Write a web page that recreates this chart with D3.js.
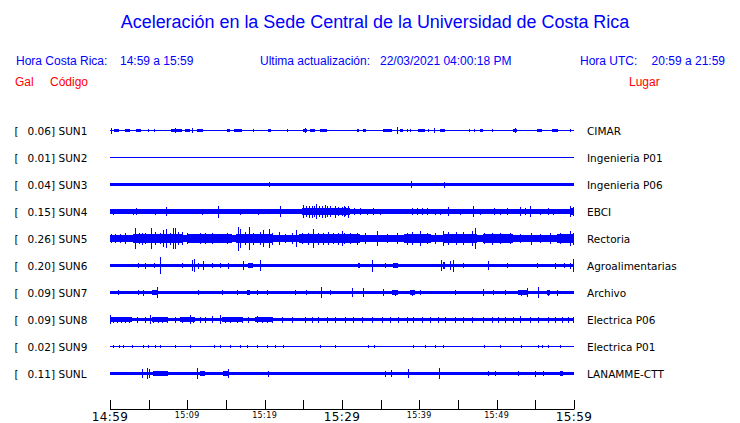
<!DOCTYPE html>
<html>
<head>
<meta charset="utf-8">
<script src="https://cdn.jsdelivr.net/npm/d3@7"></script>
<style>
  html, body { margin: 0; padding: 0; background: #fff; }
  svg { display: block; }
</style>
</head>
<body>
<svg id="chart" width="740" height="423"></svg>
<script>
// ---------------- DATA ----------------
const titleText = "Aceleración en la Sede Central de la Universidad de Costa Rica";
const localLabel = "Hora Costa Rica:", localRange = "14:59 a 15:59";
const updateLabel = "Ultima actualización:", updateValue = "22/03/2021 04:00:18 PM";
const utcLabel = "Hora UTC:", utcRange = "20:59 a 21:59";

const codes  = ["SUN1","SUN2","SUN3","SUN4","SUN5","SUN6","SUN7","SUN8","SUN9","SUNL"];
const places = ["CIMAR","Ingenieria P01","Ingenieria P06","EBCI","Rectoria","Agroalimentarias","Archivo","Electrica P06","Electrica P01","LANAMME-CTT"];
const peakGal = [0.06, 0.01, 0.04, 0.15, 0.26, 0.20, 0.09, 0.09, 0.02, 0.11];
// background (noise band) half-amplitude, Gal
const bandGal = [0.011, 0.011, 0.033, 0.045, 0.078, 0.033, 0.033, 0.042, 0.011, 0.04];

// minutes after 14:59
const tickMinutes = [0,5,10,15,20,25,30,35,40,45,50,55,60];
const tickLabels  = {0:"14:59",10:"15:09",20:"15:19",30:"15:29",40:"15:39",50:"15:49",60:"15:59"};
const majorTicks  = [0,30,60];

// events per station: [startMinute, endMinute, halfAmplitudeGal]
const sun1Events = [[0.1,0.1,.065],[0.5,1.2,.03],[1.9,2.6,.03],[3.4,4.0,.03],[4.9,4.9,.025],[5.7,5.7,.025],[6.7,6.7,.02],[7.9,9.3,.03],[8.4,8.4,.055],[9.7,10.3,.025],[10.6,10.6,.06],[11.2,12.0,.03],[13.1,13.1,.02],[15.1,15.5,.03],[16.0,17.1,.035],[18.5,18.5,.025],[19.5,19.5,.02],[20.4,20.8,.03],[22.9,22.9,.025],[23.5,23.5,.02],[24.6,24.6,.02],[25.0,25.5,.03],[25.2,25.2,.055],[25.9,26.5,.03],[27.2,28.1,.025],[29.1,29.1,.02],[30.1,30.1,.02],[31.9,32.2,.03],[32.7,33.1,.03],[33.6,33.6,.02],[35.3,36.5,.035],[37.1,37.1,.075],[37.5,37.9,.03],[38.4,38.4,.025],[38.8,38.8,.025],[39.8,40.7,.03],[41.1,41.1,.035],[41.9,41.9,.045],[42.7,43.3,.03],[45.3,45.3,.02],[46.4,46.4,.025],[47.1,47.1,.03],[47.8,48.2,.03],[49.4,49.4,.025],[50.8,50.8,.02],[52.1,52.6,.03],[52.4,52.4,.045],[53.5,53.5,.02],[54.4,54.4,.02],[55.2,55.9,.025],[57.2,57.9,.03],[58.4,58.4,.02],[59.5,59.5,.025]];
const sun2Events = [[20.4,20.4,.02],[39.2,39.2,.02]];
const sun3Events = [[20.6,20.6,.055],[31.0,31.0,.04],[38.9,38.9,.075],[43.2,43.2,.065]];
const sun4Events = [[0.4,0.9,.055],[3.0,3.6,.055],[8.0,9.7,.05],[24.8,30.4,.07],[29.7,31.0,.072],[32.3,34.9,.053],[39.1,41.0,.058],[49.5,51.3,.053],[53.0,53.9,.062],[56.5,57.3,.053],[59.5,59.9,.075],
  [0.4,0.4,.065],[0.7,0.7,.06],[3.0,3.0,.065],[3.3,3.3,.07],[3.7,3.7,.06],[5.8,5.8,.065],[6.2,6.2,.06],[7.3,7.3,.087],[8.0,8.0,.06],[8.6,8.6,.06],[9.4,9.4,.06],[11.9,11.9,.065],[13.2,13.2,.06],[14.0,14.0,.13],[15.5,15.5,.06],[16.8,16.8,.065],[17.9,17.9,.06],[19.2,19.2,.065],[19.6,19.6,.06],[20.9,20.9,.06],[22.0,22.0,.11],
  [25.0,25.0,.15],[25.3,25.3,.12],[25.7,25.7,.13],[26.1,26.1,.13],[26.4,26.4,.11],[26.7,26.7,.17],[27.0,27.0,.12],[27.4,27.4,.13],[27.8,27.8,.15],[28.1,28.1,.11],[28.5,28.5,.12],[29.1,29.1,.13],[29.5,29.5,.10],[30.2,30.2,.11],
  [30.0,30.0,.10],[30.4,30.4,.09],[30.8,30.8,.13],[31.5,31.5,.07],[32.3,32.3,.07],[33.2,33.2,.065],[34.0,34.0,.07],[34.9,34.9,.065],[39.0,39.0,.075],[39.7,39.7,.07],[40.3,40.3,.08],[41.0,41.0,.07],[42.0,42.0,.065],[42.7,42.7,.065],[43.7,43.7,.10],[45.3,45.3,.065],[47.0,47.0,.11],[47.8,47.8,.065],[49.6,49.6,.07],[50.4,50.4,.065],[51.3,51.3,.07],[53.0,53.0,.09],[53.7,53.7,.08],[54.3,54.3,.11],[55.6,55.6,.065],[56.7,56.7,.07],[57.3,57.3,.065],[59.5,59.5,.11],[59.9,59.9,.09]];
const sun5Events = [[3.0,9.5,.098],[10.0,15.8,.088],[16.3,21.0,.102],[24.5,30.5,.095],[29.7,32.3,.092],[38.0,41.5,.092],[43.0,47.5,.098],[48.2,52.1,.088],[57.8,59.9,.088],
  [0.1,0.1,.09],[0.6,0.6,.10],[1.3,1.3,.09],[1.9,1.9,.11],[3.2,3.2,.23],[3.7,3.7,.12],[4.2,4.2,.13],[4.5,4.5,.11],[5.3,5.3,.22],[5.8,5.8,.15],[6.5,6.5,.12],[6.9,6.9,.18],[7.3,7.3,.20],[7.8,7.8,.13],[8.1,8.1,.22],[8.4,8.4,.22],[8.8,8.8,.14],[9.3,9.3,.15],[9.9,9.9,.11],[10.6,10.6,.10],[11.6,11.6,.12],[12.3,12.3,.11],[13.2,13.2,.12],[14.4,14.4,.10],[15.1,15.1,.11],[15.7,15.7,.10],
  [16.5,16.5,.26],[16.8,16.8,.20],[17.5,17.5,.14],[18.0,18.0,.24],[18.5,18.5,.13],[19.4,19.4,.15],[19.8,19.8,.19],[20.5,20.5,.20],[20.9,20.9,.13],[21.8,21.8,.15],[22.6,22.6,.10],[23.5,23.5,.11],[24.1,24.1,.18],[24.8,24.8,.12],[25.6,25.6,.13],[26.3,26.3,.20],[26.9,26.9,.13],[27.6,27.6,.13],[28.2,28.2,.14],[28.9,28.9,.12],[29.5,29.5,.13],[30.2,30.2,.12],
  [30.0,30.0,.17],[31.0,31.0,.12],[31.9,31.9,.13],[33.0,33.0,.11],[34.5,34.5,.16],[35.8,35.8,.10],[37.1,37.1,.11],[38.4,38.4,.13],[39.0,39.0,.14],[40.1,40.1,.16],[41.0,41.0,.12],[42.0,42.0,.11],[43.1,43.1,.16],[43.7,43.7,.14],[44.8,44.8,.15],[45.7,45.7,.14],[46.8,46.8,.16],[47.2,47.2,.22],[48.3,48.3,.12],[49.4,49.4,.13],[50.4,50.4,.11],[51.7,51.7,.12],[53.0,53.0,.10],[54.5,54.5,.13],[55.6,55.6,.10],[56.9,56.9,.11],[58.2,58.2,.12],[59.5,59.5,.16],[59.9,59.9,.13]];
const sun6Events = [[3.6,3.6,.045],[4.5,4.5,.065],[5.7,5.7,.045],[6.5,6.5,.18],[9.3,9.3,.045],[10.6,10.6,.11],[10.9,10.9,.15],[11.4,11.4,.065],[12.0,12.0,.087],[13.2,13.2,.045],[14.2,14.2,.045],[15.3,15.3,.065],[17.2,17.2,.087],[17.8,18.5,.05],[19.4,19.4,.11],[32.1,32.3,.045],[33.9,33.9,.13],[35.6,35.6,.045],[36.6,37.2,.05],[42.8,42.8,.11],[43.1,43.3,.07],[44.0,44.0,.087],[44.4,44.4,.13],[45.6,45.6,.045],[48.9,48.9,.087],[51.3,51.3,.045],[55.2,55.2,.055],[57.5,57.5,.065],[58.7,58.7,.045],[59.5,59.5,.065],[59.9,59.9,.15]];
const sun7Events = [[1.0,1.0,.045],[3.6,3.6,.045],[4.3,4.3,.065],[5.4,6.2,.045],[6.1,6.1,.11],[8.8,10.1,.042],[11.4,11.4,.045],[12.3,13.6,.042],[14.5,14.5,.055],[16.4,16.4,.045],[17.7,18.1,.06],[19.0,19.0,.045],[20.3,20.3,.045],[22.4,23.0,.042],[23.9,23.9,.045],[24.8,26.1,.042],[25.4,25.4,.06],[27.3,27.3,.11],[27.8,29.1,.042],[28.4,28.4,.06],[31.3,31.3,.087],[32.7,32.7,.087],[35.3,35.3,.076],[36.5,37.2,.045],[36.8,36.8,.065],[38.8,39.4,.045],[39.1,39.1,.065],[40.1,40.1,.045],[41.6,42.4,.042],[44.6,44.6,.055],[46.8,47.2,.042],[48.2,48.2,.076],[49.5,49.5,.055],[51.1,51.1,.045],[52.8,54.1,.045],[53.2,53.2,.065],[53.9,53.9,.087],[55.3,55.3,.11],[56.5,56.9,.045],[56.7,56.7,.065],[57.8,57.8,.065]];
const sun8Events = [[0.0,2.8,.058],[5.4,7.5,.05],[9.1,11.0,.05],[14.5,17.1,.05],[18.8,20.9,.05],
  [0.0,0.0,.087],[0.43,0.43,.065],[0.86,0.86,.065],[1.42,1.42,.065],[1.94,1.94,.065],[2.46,2.46,.065],[3.45,3.45,.065],[4.53,4.53,.065],[5.17,5.17,.087],[5.6,5.6,.065],[6.25,6.25,.065],[6.77,6.77,.065],[7.33,7.33,.065],[8.4,8.4,.065],[9.27,9.27,.065],[10.34,10.34,.087],[10.78,10.78,.065],[11.64,11.64,.065],[12.28,12.28,.065],[13.15,13.15,.07],[14.22,14.22,.087],[14.87,14.87,.065],[15.52,15.52,.065],[16.38,16.38,.065],[17.03,17.03,.065],[17.89,17.89,.065],[18.97,18.97,.076],[19.61,19.61,.065],[20.26,20.26,.065],[20.9,20.9,.065],[22.2,22.2,.065],[23.49,23.49,.065],[25.21,25.21,.065],[26.08,26.08,.065],[26.94,26.94,.065],[28.02,28.02,.065],[29.09,29.09,.065],[30.39,30.39,.065],[31.47,31.47,.065],[32.54,32.54,.065],[33.83,33.83,.065],[35.13,35.13,.065],[36.21,36.21,.065],[37.28,37.28,.065],[38.36,38.36,.065],[39.22,39.22,.065],[40.3,40.3,.065],[41.38,41.38,.065],[42.46,42.46,.065],[43.32,43.32,.065],[44.61,44.61,.065],[45.69,45.69,.065],[46.77,46.77,.065],[48.28,48.28,.065],[49.35,49.35,.065],[50.22,50.22,.065],[51.08,51.08,.065],[52.16,52.16,.065],[53.02,53.02,.07],[54.31,54.31,.065],[55.39,55.39,.065],[56.68,56.68,.065],[57.55,57.55,.065],[58.41,58.41,.065],[59.27,59.27,.065],[59.91,59.91,.065]];
const sun9Events = [[0.4,0.4,.025],[1.1,1.1,.025],[1.7,1.7,.025],[2.8,2.8,.035],[4.3,4.3,.025],[4.9,4.9,.025],[5.8,5.8,.025],[6.5,6.5,.035],[8.4,8.4,.025],[10.3,10.3,.03],[13.4,13.4,.03],[14.2,14.2,.025],[15.5,15.5,.025],[16.8,16.8,.025],[17.7,17.7,.025],[19.0,19.0,.03],[20.3,20.3,.025],[21.3,21.3,.025],[22.4,22.4,.025],[27.2,27.2,.025],[29.1,29.1,.025],[33.4,33.4,.035],[34.1,34.1,.025],[39.2,39.2,.03],[40.7,40.7,.025],[42.0,42.0,.025],[43.1,43.1,.025],[48.3,48.3,.025],[50.4,50.4,.025],[53.2,53.2,.025],[55.4,55.4,.035],[55.8,55.8,.025],[56.7,56.7,.025],[58.2,58.2,.035]];
const sunlEvents = [[4.1,4.1,.087],[4.8,4.8,.11],[5.0,5.0,.087],[5.6,7.5,.05],[11.2,11.2,.11],[11.6,12.3,.05],[14.6,15.3,.055],[15.3,15.3,.087],[20.4,20.4,.065],[35.6,35.6,.065],[36.3,36.3,.076],[38.5,38.5,.087],[42.5,42.5,.12],[48.9,48.9,.055],[49.8,49.8,.045],[52.8,52.8,.055],[55.0,55.0,.065],[56.0,56.0,.045],[58.2,58.6,.055]];
const stationEvents = [sun1Events,sun2Events,sun3Events,sun4Events,sun5Events,sun6Events,sun7Events,sun8Events,sun9Events,sunlEvents];

// ---------------- DRAW ----------------
const svg = d3.select("#chart");
const BLUE = "#0000ff", RED = "#ff0000";

const x = d3.scaleLinear().domain([0, 60]).range([110, 574]);
const yRow = d3.scalePoint().domain(codes).range([130.5, 373.5]);
const amp = d3.scaleLinear().domain([0, 0.26]).range([0, 12]);

// Title (fit to reference width)
const title = svg.append("text")
  .attr("x", 375).attr("y", 28).attr("text-anchor", "middle")
  .style("font-family", "'Liberation Sans', Arial, sans-serif")
  .style("font-size", "18px").attr("fill", BLUE).text(titleText);
const tw = title.node().getComputedTextLength();
title.style("font-size", (18 * 509 / tw) + "px");

const hdrFont = "'Liberation Sans', Arial, sans-serif";
function hdr(txt, xx, yy, color, anchor) {
  svg.append("text").attr("x", xx).attr("y", yy)
    .attr("text-anchor", anchor || "start")
    .style("font-family", hdrFont).style("font-size", "12px")
    .attr("fill", color).text(txt);
}
hdr(localLabel, 16, 65, BLUE);
hdr(localRange, 120, 65, BLUE);
hdr(updateLabel, 260, 65, BLUE);
hdr(updateValue, 380, 65, BLUE);
hdr(utcLabel, 580, 65, BLUE);
hdr(utcRange, 725, 65, BLUE, "end");
hdr("Gal", 15, 86, RED);
hdr("Código", 50, 86, RED);
hdr("Lugar", 629, 86, RED);

// Rows
const lblFont = "'DejaVu Sans', sans-serif";
const rows = svg.selectAll("g.row").data(codes).join("g")
  .attr("class", "row")
  .attr("transform", d => `translate(0,${yRow(d)})`);

rows.append("text").attr("x", 14.5).attr("y", 4)
  .style("font-family", lblFont).style("font-size", "10.5px").attr("fill", "#000").text("[");
rows.append("text").attr("x", 55).attr("y", 4).attr("text-anchor", "end")
  .style("font-family", lblFont).style("font-size", "10.5px").attr("fill", "#000")
  .text((d, i) => peakGal[i].toFixed(2) + "]");
rows.append("text").attr("x", 58.5).attr("y", 4)
  .style("font-family", lblFont).style("font-size", "10.5px").attr("fill", "#000").text(d => d);
rows.append("text").attr("x", 587).attr("y", 4)
  .style("font-family", lblFont).style("font-size", "10.5px").attr("fill", "#000")
  .text((d, i) => places[i]);

// Background band
rows.append("rect")
  .attr("x", x(0)).attr("width", x(60) - x(0))
  .attr("y", (d, i) => -Math.max(0.5, amp(bandGal[i])))
  .attr("height", (d, i) => Math.max(1, 2 * amp(bandGal[i])))
  .attr("fill", BLUE).attr("shape-rendering", "crispEdges");

// Events (bursts and spikes)
rows.each(function(d, i) {
  d3.select(this).selectAll("rect.ev").data(stationEvents[i]).join("rect")
    .attr("class", "ev")
    .attr("x", e => x(e[0]))
    .attr("width", e => Math.max(1, x(e[1]) - x(e[0])))
    .attr("y", e => -amp(e[2]))
    .attr("height", e => 2 * amp(e[2]))
    .attr("fill", BLUE).attr("shape-rendering", "crispEdges");
});

// Time axis
const axisY = 409;
const ax = svg.append("g").attr("transform", `translate(0,${axisY})`);
ax.append("line").attr("x1", x(0)).attr("x2", x(60)).attr("y1", 0.5).attr("y2", 0.5)
  .attr("stroke", "#000").attr("stroke-width", 1);
ax.selectAll("line.tick").data(tickMinutes).join("line").attr("class", "tick")
  .attr("x1", d => Math.round(x(d)) + 0.5).attr("x2", d => Math.round(x(d)) + 0.5)
  .attr("y1", -9).attr("y2", 0.5).attr("stroke", "#000").attr("stroke-width", 1);
ax.selectAll("text.tl").data(tickMinutes.filter(d => tickLabels[d] !== undefined)).join("text")
  .attr("class", "tl")
  .attr("x", d => x(d)).attr("y", d => majorTicks.includes(d) ? 12 : 9)
  .attr("text-anchor", "middle")
  .style("font-family", lblFont)
  .style("font-size", d => majorTicks.includes(d) ? "12px" : "8px")
  .style("letter-spacing", "0.4px")
  .attr("fill", "#000")
  .text(d => tickLabels[d]);
</script>
</body>
</html>
